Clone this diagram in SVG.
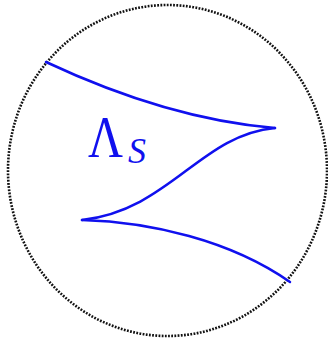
<svg xmlns="http://www.w3.org/2000/svg" width="328" height="343" viewBox="0 0 328 343">
<style>
.bnd{fill:none;stroke:#111;stroke-width:2.6;stroke-dasharray:1.8 1.4}
.cv{fill:none;stroke:#1010ee;stroke-width:2.5;stroke-linecap:round;stroke-linejoin:round}
.lbl{fill:#1010ee;font-family:"Liberation Serif","DejaVu Serif",serif}
</style>
<rect width="328" height="343" fill="#fff"/>
<g id="boundary"><ellipse class="bnd" cx="167.5" cy="170.5" rx="159.5" ry="165.5"/></g>
<g id="connectors">
<path class="cv" d="M46,62 C110,92 190,121 275,128"/>
<path class="cv" d="M275,128 C200,135 170,210 82,220"/>
<path class="cv" d="M82,220 C150,222 230,240 290,282"/>
</g>
<g id="label">
<text class="lbl" transform="translate(88,157) scale(0.82,1)" font-size="59">Λ</text>
<text class="lbl" x="128" y="163" font-size="36" font-style="italic">S</text>
</g>
</svg>
